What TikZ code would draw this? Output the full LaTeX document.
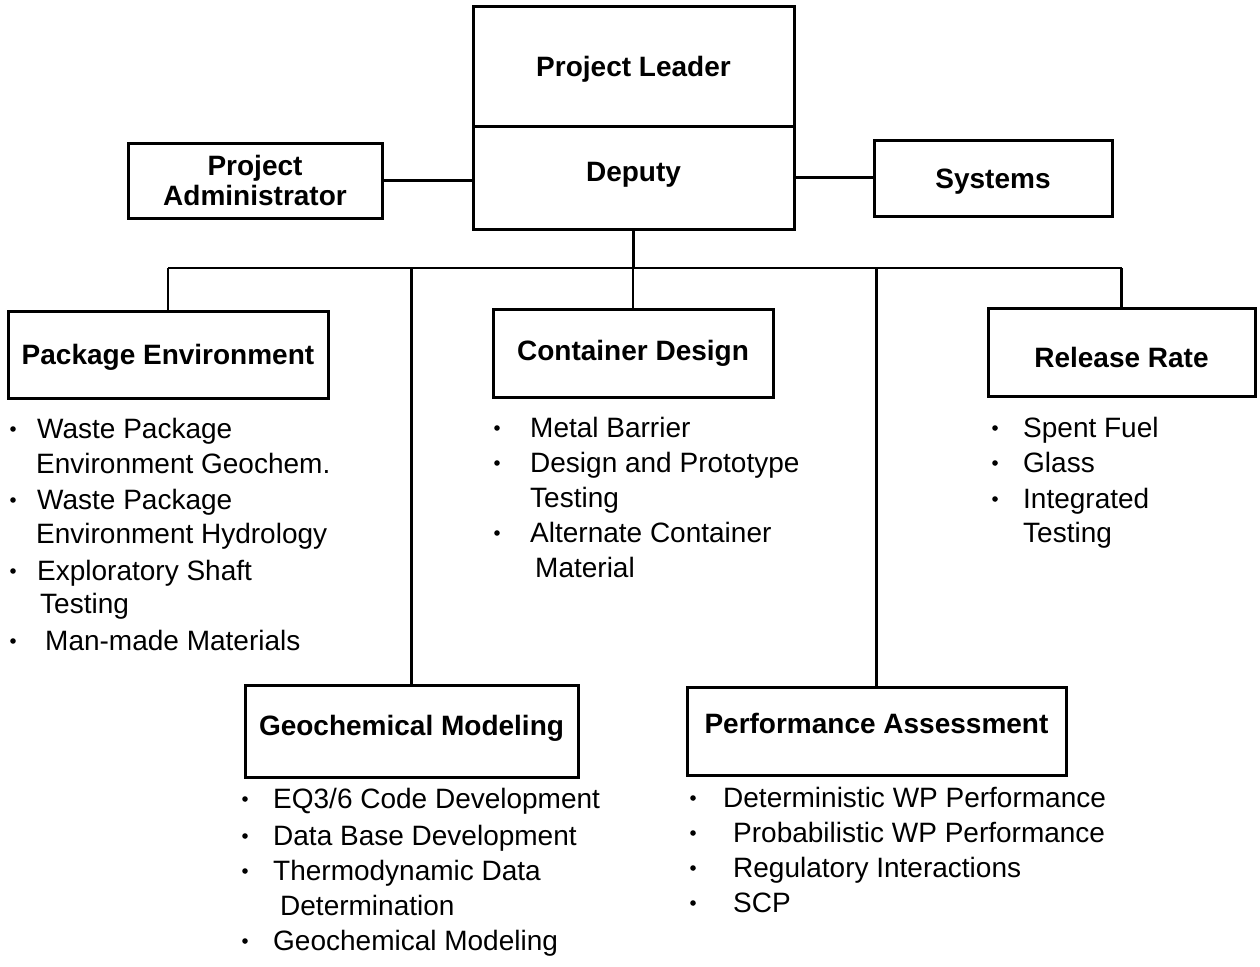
\documentclass[tikz,border=0pt]{standalone}
\usepackage{fontspec}
\setmainfont{Liberation Sans}
\begin{document}
\begin{tikzpicture}[x=1pt,y=-1pt,
  font=\fontsize{28}{35}\selectfont,
  box/.style={draw,line width=3pt,inner sep=0pt,font=\fontsize{28}{30}\selectfont\bfseries},
  cap/.style={text height=20pt,text depth=#1},
  cap/.default=0pt,
  item/.style={anchor=base west,inner sep=0pt},
  link/.style={line width=2.8pt},
  dot/.style={fill=black}]
\useasboundingbox (0,0) rectangle (1260,966);

% top boxes
\node[box,cap,minimum width=321pt,minimum height=119pt] (leader) at (633.5,66.5) {Project Leader};
\node[box,cap=12pt,minimum width=321pt,minimum height=103pt] (deputy) at (633.5,177.5) {Deputy};
\node[box,align=center,minimum width=254pt,minimum height=75pt] (admin) at (255,180.5) {Project\\Administrator};
\node[box,cap,minimum width=238pt,minimum height=76pt] (systems) at (993,178) {Systems};

% second row
\node[box,cap,minimum width=320pt,minimum height=87pt] (pkg) at (168,354.5) {Package Environment};
\node[box,cap=6pt,minimum width=280pt,minimum height=88pt] (cont) at (633,353) {Container Design};
\node[box,text height=30pt,text depth=0pt,minimum width=267pt,minimum height=88pt] (rel) at (1121.5,352) {Release Rate};

% third row
\node[box,cap=12pt,minimum width=333pt,minimum height=92pt] (geo) at (411.5,731) {Geochemical Modeling};
\node[box,cap=15pt,minimum width=379pt,minimum height=88pt] (perf) at (876.5,731) {Performance Assessment};

% connectors
\coordinate (bus) at (633.5,268);
\draw[link] (admin.east) -- (admin.east -| deputy.west);
\draw[link] (deputy.east) -- (deputy.east -| systems.west);
\draw[link] (deputy.south) -- (bus);
\draw[link] (pkg.north |- bus) -- (rel.north |- bus);
\draw[link] (pkg.north |- bus) -- (pkg.north);
\draw[link] (cont.north |- bus) -- (cont.north);
\draw[link] (rel.north |- bus) -- (rel.north);
\draw[link] (geo.north |- bus) -- (geo.north);
\draw[link] (perf.north |- bus) -- (perf.north);

% Package Environment list
\node[item] (pe1) at (37,438) {Waste Package};
\node[item] (pe2) at (36,473) {Environment Geochem.};
\node[item] (pe3) at (37,509) {Waste Package};
\node[item] (pe4) at (36,543) {Environment Hydrology};
\node[item] (pe5) at (37,580) {Exploratory Shaft};
\node[item] (pe6) at (40,613) {Testing};
\node[item] (pe7) at (45,650) {Man-made Materials};
\foreach \y in {429,500,571,641} \fill[dot] (13,\y) circle (2.8);

% Container Design list
\node[item] (cd1) at (530,437) {Metal Barrier};
\node[item] (cd2) at (530,472) {Design and Prototype};
\node[item] (cd3) at (530,507) {Testing};
\node[item] (cd4) at (530,542) {Alternate Container};
\node[item] (cd5) at (535,577) {Material};
\foreach \y in {428,463,533} \fill[dot] (497,\y) circle (2.8);

% Release Rate list
\node[item] (rr1) at (1023,437) {Spent Fuel};
\node[item] (rr2) at (1023,472) {Glass};
\node[item] (rr3) at (1023,508) {Integrated};
\node[item] (rr4) at (1023,542) {Testing};
\foreach \y in {428,463,499} \fill[dot] (995,\y) circle (2.8);

% Geochemical Modeling list
\node[item] (gm1) at (273,808) {EQ3/6 Code Development};
\node[item] (gm2) at (273,845) {Data Base Development};
\node[item] (gm3) at (273,880) {Thermodynamic Data};
\node[item] (gm4) at (280,915) {Determination};
\node[item] (gm5) at (273,950) {Geochemical Modeling};
\foreach \y in {799,836,871,941} \fill[dot] (245,\y) circle (2.8);

% Performance Assessment list
\node[item] (pa1) at (723,807) {Deterministic WP Performance};
\node[item] (pa2) at (733,842) {Probabilistic WP Performance};
\node[item] (pa3) at (733,877) {Regulatory Interactions};
\node[item] (pa4) at (733,912) {SCP};
\foreach \y in {798,833,868,903} \fill[dot] (693,\y) circle (2.8);
\end{tikzpicture}
\end{document}
